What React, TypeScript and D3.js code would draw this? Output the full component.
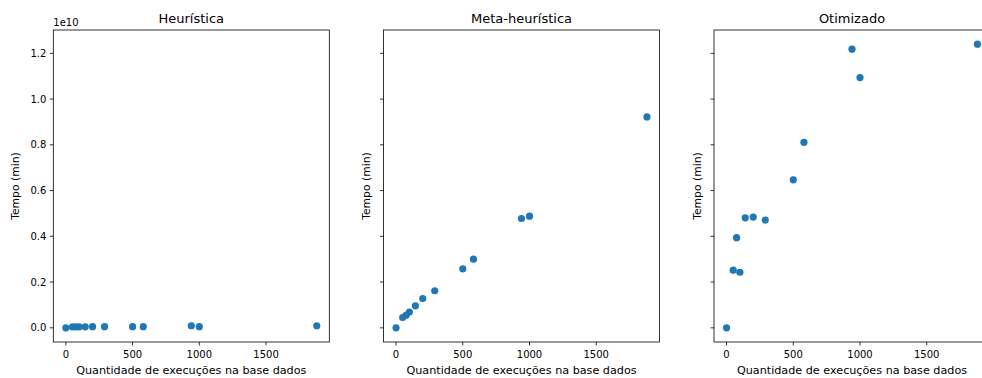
import React from "react";
import * as d3 from "d3";

// Number of executions in the database (x) and time (y) for each method
const execucoes = [0, 50, 75, 100, 145, 200, 290, 500, 580, 940, 1000, 1880];
const heuristica = [0.0, 0.04e9, 0.04e9, 0.045e9, 0.045e9, 0.05e9, 0.05e9, 0.05e9, 0.05e9, 0.09e9, 0.05e9, 0.09e9];
const metaHeuristica = [0.0, 0.045e10, 0.055e10, 0.069e10, 0.096e10, 0.128e10, 0.162e10, 0.258e10, 0.3e10, 0.478e10, 0.488e10, 0.922e10];
const otimizado = [0.0, 0.252e10, 0.394e10, 0.243e10, 0.481e10, 0.484e10, 0.471e10, 0.647e10, 0.811e10, 1.218e10, 1.094e10, 1.24e10];
const otimizadoX = [0, 50, 75, 100, 140, 200, 290, 500, 580, 940, 1000, 1880];

const titulos = ["Heurística", "Meta-heurística", "Otimizado"];
const xTicks = [0, 500, 1000, 1500];
const yTicks = [0, 0.2e10, 0.4e10, 0.6e10, 0.8e10, 1.0e10, 1.2e10];
const xLabel = "Quantidade de execuções na base dados";
const yLabel = "Tempo (min)";

const W = 982;
const H = 378;
const axLefts = [53.3, 383.5, 714];
const axW = 276;
const axTop = 30;
const axBottom = 342;
const FONT = "DejaVu Sans, sans-serif";
const BLUE = "#1f77b4";

function padded(min: number, max: number): [number, number] {
  const r = max - min;
  return [min - 0.05 * r, max + 0.05 * r];
}

export default function App() {
  const panels = [
    { xs: execucoes, ys: heuristica },
    { xs: execucoes, ys: metaHeuristica },
    { xs: otimizadoX, ys: otimizado },
  ];
  const allY = panels.flatMap((p) => p.ys);
  const y = d3
    .scaleLinear()
    .domain(padded(d3.min(allY)!, d3.max(allY)!))
    .range([axBottom, axTop]);

  return (
    <svg
      width={W}
      height={H}
      style={{ position: "absolute", left: 0, top: 0, overflow: "hidden", background: "#fff" }}
      fontFamily={FONT}
    >
      <rect width={W} height={H} fill="#fff" />
      {panels.map((p, i) => {
        const left = axLefts[i];
        const x = d3
          .scaleLinear()
          .domain(padded(d3.min(p.xs)!, d3.max(p.xs)!))
          .range([left, left + axW]);
        const cx = left + axW / 2;
        return (
          <g key={i}>
            <defs>
              <clipPath id={`clip${i}`}>
                <rect x={left} y={axTop} width={axW} height={axBottom - axTop} />
              </clipPath>
            </defs>
            <g clipPath={`url(#clip${i})`}>
              {p.xs.map((xv, j) => (
                <circle key={j} cx={x(xv)} cy={y(p.ys[j])} r={3.6} fill={BLUE} />
              ))}
            </g>
            <rect
              x={left}
              y={axTop}
              width={axW}
              height={axBottom - axTop}
              fill="none"
              stroke="#000"
              strokeWidth={0.8}
            />
            {xTicks.map((t) => (
              <g key={t}>
                <line x1={x(t)} x2={x(t)} y1={axBottom} y2={axBottom + 3.5} stroke="#000" strokeWidth={0.8} />
                <text x={x(t)} y={358} fontSize={10} textAnchor="middle" fill="#000">
                  {t}
                </text>
              </g>
            ))}
            {yTicks.map((t) => (
              <g key={t}>
                <line x1={left - 3.5} x2={left} y1={y(t)} y2={y(t)} stroke="#000" strokeWidth={0.8} />
                {i === 0 && (
                  <text x={left - 7} y={y(t) + 3.6} fontSize={10} textAnchor="end" fill="#000">
                    {(t / 1e10).toFixed(1)}
                  </text>
                )}
              </g>
            ))}
            <text x={cx} y={23.3} fontSize={13} textAnchor="middle" fill="#000">
              {titulos[i]}
            </text>
            <text x={cx} y={373.5} fontSize={11.2} textAnchor="middle" fill="#000">
              {xLabel}
            </text>
            <text
              transform={`translate(${i === 0 ? 18.5 : left - 13.3},${(axTop + axBottom) / 2}) rotate(-90)`}
              fontSize={10.8}
              textAnchor="middle"
              fill="#000"
            >
              {yLabel}
            </text>
            {i === 0 && (
              <text x={left} y={26} fontSize={10} fill="#000">
                1e10
              </text>
            )}
          </g>
        );
      })}
    </svg>
  );
}
